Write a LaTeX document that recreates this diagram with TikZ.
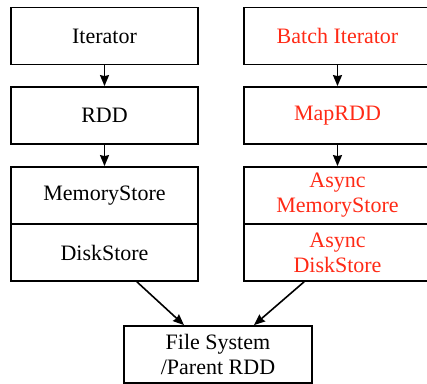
\documentclass[tikz,border=0pt]{standalone}
\usepackage{fontspec}
\setmainfont{Liberation Serif}
\usetikzlibrary{arrows.meta}
\definecolor{hl}{RGB}{255,42,22}
\begin{document}
\begin{tikzpicture}[x=1pt,y=1pt,
  box/.style={draw=black,line width=1.8pt,minimum width=187pt,minimum height=57pt,
    inner sep=0pt,align=center,font=\fontsize{22}{25}\selectfont},
  new/.style={box,text=hl},
  flow/.style={line width=1.6pt,-{Stealth[length=11pt,width=9pt,inset=1pt]}}]
\useasboundingbox (0,0) rectangle (427,-383);
% baseline stack
\node[box] (iter) at (104.5,-36) {Iterator};
\node[box] (rdd)  at (104.5,-115.5) {RDD};
\node[box] (mem)  at (104.5,-195.5) {MemoryStore};
\node[box] (disk) at (104.5,-252.5) {DiskStore};
% modified stack
\node[new] (biter) at (337.5,-36) {Batch Iterator};
\node[new] (mrdd)  at (337.5,-115.5) {MapRDD};
\node[new] (amem)  at (337.5,-195.5) {Async\\MemoryStore};
\node[new] (adisk) at (337.5,-252.5) {Async\\DiskStore};
% shared sink
\node[box,minimum width=188pt] (fs) at (218,-354.5) {File System\\/Parent RDD};
% connectors
\draw[flow] (iter) -- (rdd);
\draw[flow] (rdd) -- (mem);
\draw[flow] (biter) -- (mrdd);
\draw[flow] (mrdd) -- (amem);
\coordinate (ls) at ([xshift=32.5pt]disk.south);
\coordinate (lt) at ([xshift=-34pt]fs.north);
\coordinate (rs) at ([xshift=-33.5pt]adisk.south);
\coordinate (rt) at ([xshift=36pt]fs.north);
\draw[flow] (ls) -- (lt);
\draw[flow] (rs) -- (rt);
\end{tikzpicture}
\end{document}
